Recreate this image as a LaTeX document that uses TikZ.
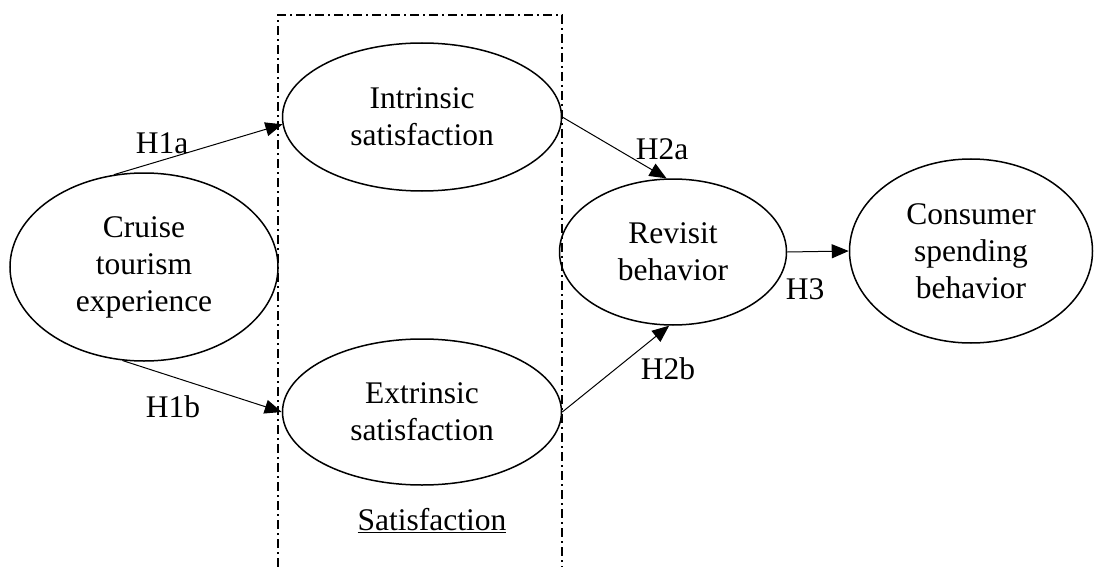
\documentclass[tikz,border=0pt]{standalone}
\usepackage{fontspec}
\setmainfont{Liberation Serif}
\usetikzlibrary{shapes.geometric,arrows.meta}
\begin{document}
\begin{tikzpicture}[x=1pt,y=-1pt,
    construct/.style={ellipse,draw,line width=1.5pt,inner sep=0pt,align=center,
        font=\fontsize{31.5}{37}\selectfont},
    hyp/.style={font=\fontsize{31.5}{37}\selectfont},
    link/.style={line width=1pt,-{Triangle[length=17pt,width=14pt]}}]
    \useasboundingbox (0,0) rectangle (1095,567);

    % Satisfaction frame (open at the bottom)
    \draw[line width=1.6pt,dash pattern=on 9pt off 4pt on 2pt off 4pt]
        (278,567) -- (278,15) -- (562,15) -- (562,567);
    \node[hyp] (satlabel) at (432,521) {\underline{Satisfaction}};

    % Constructs
    \node[construct,minimum width=268pt,minimum height=188pt] (cruise) at (144,267) {Cruise\\tourism\\experience};
    \node[construct,minimum width=279pt,minimum height=148pt] (intr) at (422,117) {Intrinsic\\satisfaction};
    \node[construct,minimum width=279pt,minimum height=146pt] (extr) at (422,412) {Extrinsic\\satisfaction};
    \node[construct,minimum width=227pt,minimum height=146pt] (rev) at (673,252) {Revisit\\behavior};
    \node[construct,minimum width=243pt,minimum height=184pt] (cons) at (971,251) {Consumer\\spending\\behavior};

    % Hypothesised paths
    \draw[link] (cruise.108) -- (intr.183);
    \draw[link] (cruise.257) -- (extr.west);
    \draw[link] (intr.east) -- (rev.95);
    \draw[link] (extr.east) -- (rev.267);
    \draw[link] (rev.east) -- (cons.west);

    % Path labels
    \node[hyp] (h1a) at (162,143) {H1a};
    \node[hyp] (h1b) at (173,407) {H1b};
    \node[hyp] (h2a) at (662,149) {H2a};
    \node[hyp] (h2b) at (668,369) {H2b};
    \node[hyp] (h3) at (805,289) {H3};
\end{tikzpicture}
\end{document}
